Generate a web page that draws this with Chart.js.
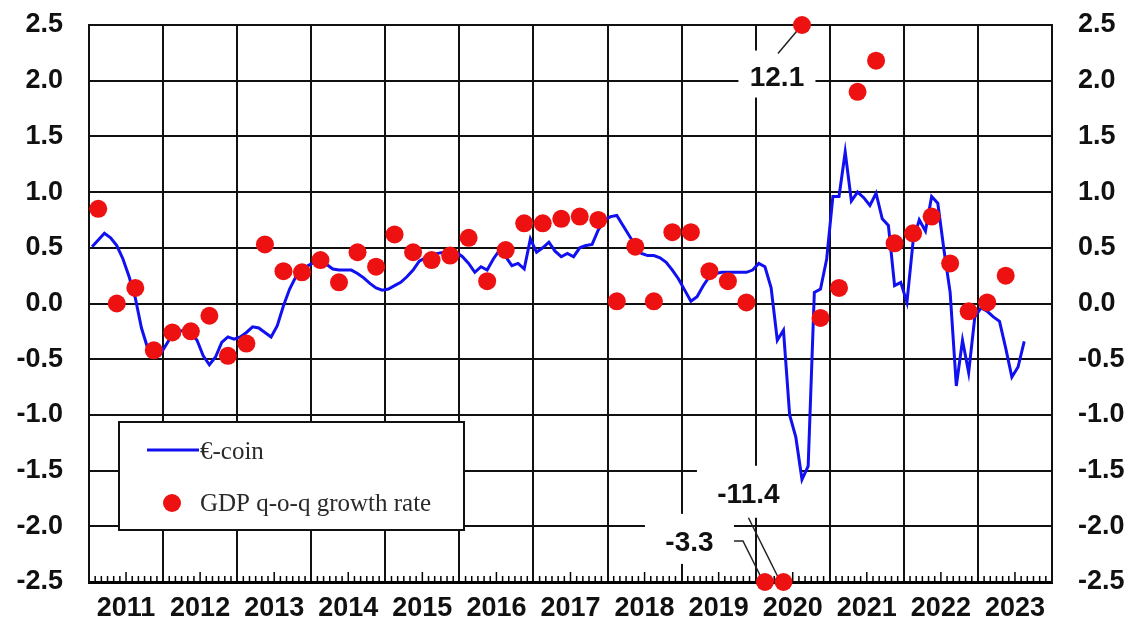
<!DOCTYPE html>
<html>
<head>
<meta charset="utf-8">
<script src="https://cdn.jsdelivr.net/npm/chart.js@4.4.0/dist/chart.umd.min.js"></script>
<style>
html, body { margin: 0; padding: 0; background: #fff; }
</style>
</head>
<body>
<canvas id="chart" width="1137" height="618"></canvas>
<script>
// years shown on the x axis (one column per calendar year)
var years = [2011, 2012, 2013, 2014, 2015, 2016, 2017, 2018, 2019, 2020, 2021, 2022, 2023];
var yTicks = [-2.5, -2.0, -1.5, -1.0, -0.5, 0.0, 0.5, 1.0, 1.5, 2.0, 2.5];

// €-coin, monthly from Jan 2011
var ecoin = [
  0.51, 0.57, 0.63, 0.59, 0.52, 0.40, 0.24, 0.05, -0.22, -0.40, -0.45, -0.46,
  -0.37, -0.28, -0.25, -0.24, -0.26, -0.33, -0.47, -0.55, -0.48, -0.35, -0.30, -0.32,
  -0.30, -0.26, -0.21, -0.22, -0.26, -0.30, -0.20, -0.02, 0.13, 0.24, 0.30, 0.34,
  0.37, 0.39, 0.35, 0.31, 0.30, 0.30, 0.30, 0.27, 0.23, 0.18, 0.14, 0.12,
  0.13, 0.16, 0.19, 0.24, 0.30, 0.38, 0.41, 0.44, 0.45, 0.46, 0.47, 0.46,
  0.42, 0.36, 0.28, 0.33, 0.30, 0.40, 0.48, 0.42, 0.34, 0.36, 0.31, 0.58,
  0.46, 0.50, 0.55, 0.47, 0.42, 0.45, 0.42, 0.50, 0.52, 0.53, 0.66, 0.75,
  0.78, 0.79, 0.70, 0.61, 0.52, 0.45, 0.43, 0.43, 0.41, 0.37, 0.30, 0.22,
  0.12, 0.02, 0.06, 0.16, 0.24, 0.27, 0.28, 0.28, 0.28, 0.28, 0.28, 0.30,
  0.36, 0.33, 0.14, -0.33, -0.24, -1.00, -1.20, -1.58, -1.46, 0.10, 0.13, 0.40,
  0.96, 0.96, 1.36, 0.92, 1.00, 0.95, 0.88, 0.99, 0.76, 0.70, 0.16, 0.19,
  0.01, 0.56, 0.75, 0.65, 0.96, 0.90, 0.48, 0.10, -0.74, -0.33, -0.62, -0.12,
  -0.04, -0.07, -0.12, -0.16, -0.40, -0.66, -0.57, -0.34
];

// GDP q-o-q growth rate, quarterly from 2011Q1
var gdp = [
  0.85, 0.00, 0.14, -0.42,
  -0.26, -0.25, -0.11, -0.47,
  -0.36, 0.53, 0.29, 0.28,
  0.39, 0.19, 0.46, 0.33,
  0.62, 0.46, 0.39, 0.43,
  0.59, 0.20, 0.48, 0.72,
  0.72, 0.76, 0.78, 0.75,
  0.02, 0.51, 0.02, 0.64,
  0.64, 0.29, 0.20, 0.01,
  -3.3, -11.4, 12.1, -0.13,
  0.14, 1.90, 2.18, 0.54,
  0.63, 0.78, 0.36, -0.07,
  0.01, 0.25
];

var startYear = years[0];
var yMin = yTicks[0], yMax = yTicks[yTicks.length - 1];

function clampV(v) { return Math.max(yMin, Math.min(yMax, v)); }
function gdpX(i) { return startYear + 0.125 + i * 0.25; }

// labels for the off-scale quarters (box centre in data units)
var callouts = [
  { i: 38, x: 2020.287, y: 2.06, w: 77, h: 47, side: 'top' },
  { i: 37, x: 2019.902, y: -1.69, w: 103, h: 52, side: 'bottom' },
  { i: 36, x: 2019.106, y: -2.113, w: 89, h: 50, side: 'right' }
];

var tickFont = { family: 'Liberation Sans, Arial, sans-serif', size: 27, weight: 'bold' };

var overlay = {
  id: 'overlay',
  beforeDatasetsDraw: function(chart) {
    var ctx = chart.ctx, xs = chart.scales.x, ys = chart.scales.y, a = chart.chartArea;
    ctx.save();
    // monthly ticks
    ctx.strokeStyle = '#000';
    ctx.lineWidth = 1.5;
    var months = years.length * 12;
    for (var m = 1; m < months; m++) {
      if (m % 12 === 0) continue;
      var px = xs.getPixelForValue(startYear + m / 12);
      var len = (m % 12 === 6) ? 10 : 6;
      ctx.beginPath();
      ctx.moveTo(px, a.bottom);
      ctx.lineTo(px, a.bottom - len);
      ctx.stroke();
    }
    // callout boxes and leaders
    callouts.forEach(function(c) {
      var dx = xs.getPixelForValue(gdpX(c.i)), dy = ys.getPixelForValue(clampV(gdp[c.i]));
      var bx = xs.getPixelForValue(c.x), by = ys.getPixelForValue(c.y);
      ctx.fillStyle = '#fff';
      ctx.fillRect(bx - c.w / 2, by - c.h / 2, c.w, c.h);
      ctx.strokeStyle = '#222';
      ctx.lineWidth = 1.5;
      ctx.beginPath();
      if (c.side === 'top') {
        ctx.moveTo(bx + 1, by - c.h / 2 + 3);
        ctx.lineTo(dx, dy);
      } else if (c.side === 'bottom') {
        ctx.moveTo(bx, by + c.h / 2);
        ctx.lineTo(dx - 3, dy);
      } else {
        ctx.moveTo(bx + c.w / 2, by + 2);
        ctx.lineTo(bx + c.w / 2 + 9, by + 2);
        ctx.lineTo(dx - 3, dy - 3);
      }
      ctx.stroke();
      ctx.fillStyle = '#111';
      ctx.font = 'bold 28px "Liberation Sans", Arial, sans-serif';
      ctx.textAlign = 'center';
      ctx.textBaseline = 'middle';
      ctx.fillText(gdp[c.i].toFixed(1), bx, by + 4);
    });
    ctx.restore();
  },
  afterDatasetsDraw: function(chart) {
    var ctx = chart.ctx;
    ctx.save();
    // legend box
    ctx.fillStyle = '#fff';
    ctx.fillRect(119, 422, 345, 108);
    ctx.strokeStyle = '#111';
    ctx.lineWidth = 2;
    ctx.strokeRect(119, 422, 345, 108);
    ctx.strokeStyle = '#1010f0';
    ctx.lineWidth = 3;
    ctx.beginPath();
    ctx.moveTo(147, 450);
    ctx.lineTo(199, 450);
    ctx.stroke();
    ctx.fillStyle = '#ee1111';
    ctx.beginPath();
    ctx.arc(172, 503, 9, 0, Math.PI * 2);
    ctx.fill();
    ctx.fillStyle = '#2a2a2a';
    ctx.font = '25px "Liberation Serif", "Times New Roman", serif';
    ctx.textAlign = 'left';
    ctx.textBaseline = 'middle';
    ctx.fillText(chart.data.datasets[1].label, 200, 452);
    ctx.fillText(chart.data.datasets[0].label, 200, 504);
    ctx.restore();
  }
};

var xTicks = [];
years.forEach(function(y) { xTicks.push(y); xTicks.push(y + 0.5); });
xTicks.push(startYear + years.length);

new Chart(document.getElementById('chart').getContext('2d'), {
  type: 'line',
  data: {
    datasets: [{
      type: 'scatter',
      label: 'GDP q-o-q growth rate',
      data: gdp.map(function(v, i) { return { x: gdpX(i), y: clampV(v) }; }),
      backgroundColor: '#ee1111',
      borderWidth: 0,
      pointRadius: 9,
      pointHoverRadius: 9,
      clip: false
    }, {
      type: 'line',
      label: '\u20ac-coin',
      data: ecoin.map(function(v, i) { return { x: startYear + (i + 0.5) / 12, y: v }; }),
      borderColor: '#1010f0',
      borderWidth: 3,
      pointRadius: 0,
      tension: 0,
      fill: false
    }]
  },
  options: {
    responsive: false,
    animation: false,
    layout: { padding: { top: 25, left: 0, right: 0, bottom: 0 } },
    plugins: { legend: { display: false }, tooltip: { enabled: false } },
    scales: {
      x: {
        type: 'linear',
        min: startYear,
        max: startYear + years.length,
        afterBuildTicks: function(s) { s.ticks = xTicks.map(function(v) { return { value: v }; }); },
        afterFit: function(s) { s.height = 36; s.paddingLeft = 0; s.paddingRight = 0; },
        grid: {
          drawTicks: false,
          lineWidth: 2,
          color: function(c) { return (c.tick && Number.isInteger(c.tick.value)) ? '#111' : 'rgba(0,0,0,0)'; }
        },
        border: { display: true, color: '#000', width: 3 },
        ticks: {
          autoSkip: false,
          maxRotation: 0,
          padding: 10,
          color: '#111',
          font: tickFont,
          callback: function(v) { return Number.isInteger(v) ? '' : String(Math.floor(v)); }
        }
      },
      y: {
        position: 'left',
        min: yMin,
        max: yMax,
        afterBuildTicks: function(s) { s.ticks = yTicks.map(function(v) { return { value: v }; }); },
        afterFit: function(s) { s.width = 89; s.paddingTop = 0; s.paddingBottom = 0; },
        grid: { drawTicks: false, lineWidth: 2, color: '#111' },
        border: { display: true, color: '#111', width: 2 },
        ticks: { padding: 26, color: '#111', font: tickFont, callback: function(v) { return v.toFixed(1); } }
      },
      y2: {
        position: 'right',
        min: yMin,
        max: yMax,
        afterBuildTicks: function(s) { s.ticks = yTicks.map(function(v) { return { value: v }; }); },
        afterFit: function(s) { s.width = 85; s.paddingTop = 0; s.paddingBottom = 0; },
        grid: { drawTicks: false, drawOnChartArea: false },
        border: { display: true, color: '#111', width: 2 },
        ticks: { padding: 26, color: '#111', font: tickFont, callback: function(v) { return v.toFixed(1); } }
      }
    }
  },
  plugins: [overlay]
});
</script>
</body>
</html>
